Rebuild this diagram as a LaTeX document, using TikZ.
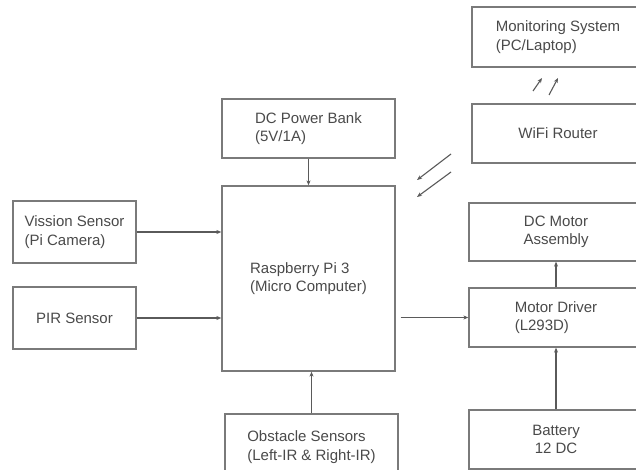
\documentclass[tikz,border=0pt]{standalone}
\usepackage{fontspec}
\setmainfont{Liberation Sans}
\usetikzlibrary{arrows.meta}
\definecolor{boxline}{HTML}{7A7A7A}
\definecolor{arrline}{HTML}{5A5A5A}
\definecolor{txt}{HTML}{4A4A4A}
\begin{document}
\begin{tikzpicture}[x=1pt,y=-1pt,
  blk/.style={draw=boxline,line width=1.3pt,fill=white,text=txt,inner sep=0pt,
    font=\fontsize{15}{18.5}\selectfont,align=left},
  blkc/.style={blk,align=center},
  conn/.style={draw=arrline,line width=1.1pt,-{Stealth[length=5pt,width=4pt]}}]
\useasboundingbox (0,0) rectangle (636,470);
\clip (0,0) rectangle (636,470);
\fill[white] (0,0) rectangle (636,470);
\node[blk,minimum width=172pt,minimum height=60pt] (mon) at (558,37) {Monitoring System\\(PC/Laptop)};
\node[blk,minimum width=172pt,minimum height=59pt] (wifi) at (558,133.5) {WiFi Router};
\node[blk,minimum width=173pt,minimum height=59pt] (power) at (308.5,128.5) {DC Power Bank\\(5V/1A)};
\node[blk,minimum width=173pt,minimum height=185pt] (rpi) at (308.5,278.5) {Raspberry Pi 3\\(Micro Computer)};
\node[blk,minimum width=123pt,minimum height=62pt] (vis) at (74.5,232) {Vission Sensor\\(Pi Camera)};
\node[blk,minimum width=123pt,minimum height=62pt] (pir) at (74.5,318) {PIR Sensor};
\node[blk,minimum width=173pt,minimum height=66pt] (obs) at (311.5,447) {Obstacle Sensors\\(Left-IR \& Right-IR)};
\node[blkc,minimum width=174pt,minimum height=58pt] (motor) at (556,232) {DC Motor\\Assembly};
\node[blk,minimum width=174pt,minimum height=59pt] (driver) at (556,317.5) {Motor Driver\\(L293D)};
\node[blkc,minimum width=174pt,minimum height=59pt] (bat) at (556,439.5) {Battery\\12 DC};
% connectors
\draw[conn] (vis.east) -- (vis.east -| rpi.west);
\draw[conn] (pir.east) -- (pir.east -| rpi.west);
\draw[conn] (power.south) -- (power.south |- rpi.north);
\draw[conn] (obs.north) -- (obs.north |- rpi.south);
\draw[conn,shorten <=5pt] (rpi.east |- driver.west) -- (driver.west);
\draw[conn] (driver.north) -- (motor.south);
\draw[conn] (bat.north) -- (driver.south);
% wireless arrows
\coordinate (w1a) at (451,154); \coordinate (w1b) at (417,180);
\coordinate (w2a) at (451,172); \coordinate (w2b) at (417,197);
\draw[conn] (w1a) -- (w1b);
\draw[conn] (w2a) -- (w2b);
\coordinate (m1a) at (533,91); \coordinate (m1b) at (542,78);
\coordinate (m2a) at (549,95); \coordinate (m2b) at (558,78);
\draw[conn] (m1a) -- (m1b);
\draw[conn] (m2a) -- (m2b);
\end{tikzpicture}
\end{document}
